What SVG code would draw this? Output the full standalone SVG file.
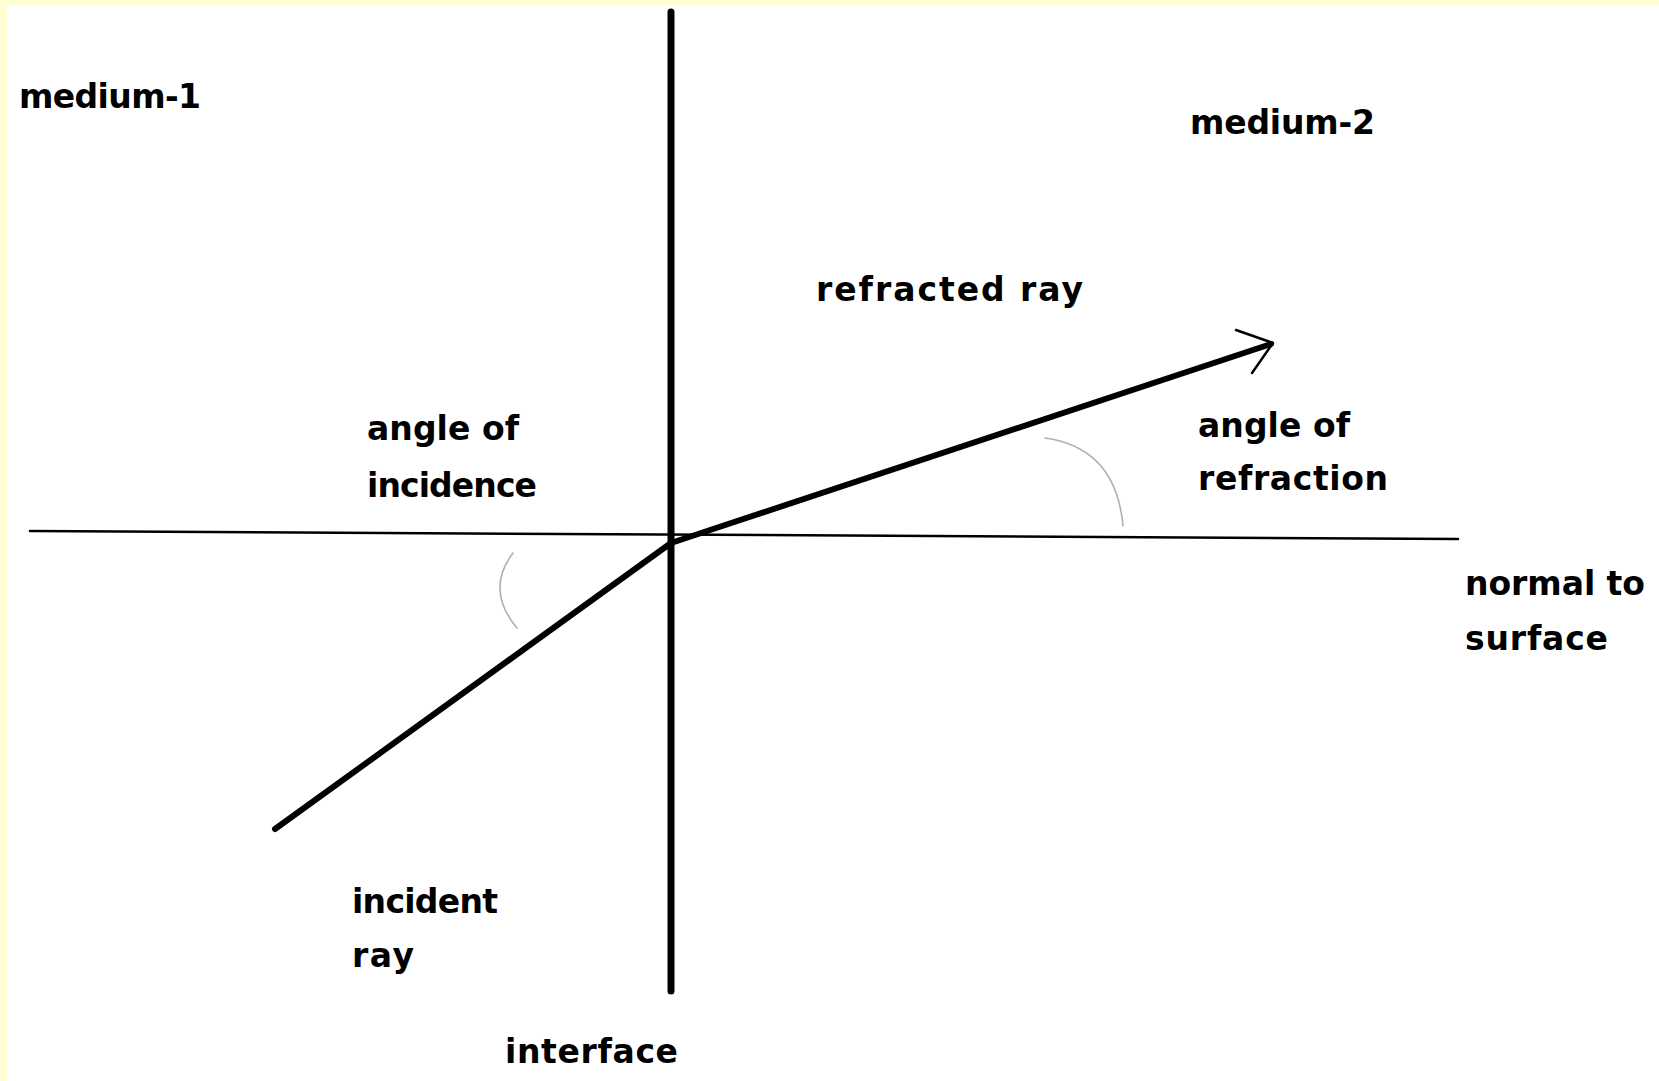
<svg xmlns="http://www.w3.org/2000/svg" width="1659" height="1081" viewBox="0 0 1659 1081">
<style>
.lbl{font-family:"DejaVu Sans","Liberation Sans",sans-serif;font-weight:bold;font-size:33px;fill:#000}
.thick{stroke:#000;stroke-linecap:round;fill:none}
.arc{stroke:#b0b0b0;stroke-width:1.6;fill:none;stroke-linecap:round}
</style>
<rect x="0" y="0" width="1659" height="1081" fill="#fffdd3"/>
<rect x="7" y="5" width="1652" height="1076" fill="#ffffff"/>
<g id="connectors">
<line id="normal" class="thick" x1="30" y1="531" x2="1458" y2="539" stroke-width="2.5"/>
<line id="interface-line" class="thick" x1="671" y1="12" x2="671" y2="991" stroke-width="7"/>
<line id="incident-ray" class="thick" x1="275" y1="829" x2="671" y2="543" stroke-width="6"/>
<line id="refracted-ray" class="thick" x1="671" y1="543" x2="1271" y2="344" stroke-width="6"/>
<polyline id="arrowhead" class="thick" points="1236,330 1273,343 1252,373" stroke-width="2.5" stroke-linejoin="round"/>
<path id="arc-incidence" class="arc" d="M513 553 Q485 590 517 628"/>
<path id="arc-refraction" class="arc" d="M1045 438 Q1116 448 1123 526"/>
</g>
<g id="medium-1"><text class="lbl" x="19" y="108" textLength="182" lengthAdjust="spacing">medium-1</text></g>
<g id="medium-2"><text class="lbl" x="1190" y="134" textLength="185" lengthAdjust="spacing">medium-2</text></g>
<g id="refracted-ray-label"><text class="lbl" x="816" y="301" textLength="267" lengthAdjust="spacing">refracted ray</text></g>
<g id="angle-of-incidence"><text class="lbl" x="367" y="440" textLength="152" lengthAdjust="spacing">angle of</text><text class="lbl" x="367" y="497" textLength="170" lengthAdjust="spacing">incidence</text></g>
<g id="angle-of-refraction"><text class="lbl" x="1198" y="437" textLength="152" lengthAdjust="spacing">angle of</text><text class="lbl" x="1198" y="490" textLength="190" lengthAdjust="spacing">refraction</text></g>
<g id="normal-to-surface"><text class="lbl" x="1465" y="595" textLength="180" lengthAdjust="spacing">normal to</text><text class="lbl" x="1465" y="650" textLength="143" lengthAdjust="spacing">surface</text></g>
<g id="incident-ray-label"><text class="lbl" x="352" y="913" textLength="146" lengthAdjust="spacing">incident</text><text class="lbl" x="352" y="967" textLength="62" lengthAdjust="spacing">ray</text></g>
<g id="interface"><text class="lbl" x="505" y="1063" textLength="173" lengthAdjust="spacing">interface</text></g>
</svg>
